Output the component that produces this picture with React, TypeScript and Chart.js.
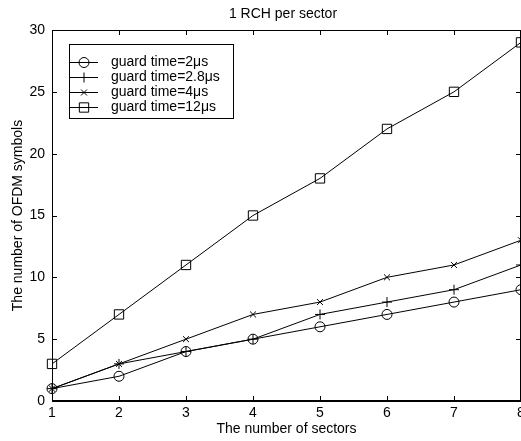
import React, { useEffect, useRef } from 'react';
import { Chart, registerables } from 'chart.js';

Chart.register(...registerables);

const sectors = ['1', '2', '3', '4', '5', '6', '7', '8'];
const guard2 = [1, 2, 4, 5, 6, 7, 8, 9];
const guard28 = [1, 3, 4, 5, 7, 8, 9, 11];
const guard4 = [1, 3, 5, 7, 8, 10, 11, 13];
const guard12 = [3, 7, 11, 15, 18, 22, 25, 29];
const seriesLabels = ['guard time=2μs', 'guard time=2.8μs', 'guard time=4μs', 'guard time=12μs'];
const titleText = '1 RCH per sector';
const xTitle = 'The number of sectors';
const yTitle = 'The number of OFDM symbols';

const FONT = 'Arial, "Liberation Sans", Helvetica, sans-serif';

function drawMarker(ctx: CanvasRenderingContext2D, style: string, x: number, y: number, r: number) {
  ctx.beginPath();
  if (style === 'circle') {
    ctx.arc(x, y, r, 0, Math.PI * 2);
  } else if (style === 'cross') {
    ctx.moveTo(x - r, y); ctx.lineTo(x + r, y);
    ctx.moveTo(x, y - r); ctx.lineTo(x, y + r);
  } else if (style === 'crossRot') {
    const o = r * Math.SQRT1_2;
    ctx.moveTo(x - o, y - o); ctx.lineTo(x + o, y + o);
    ctx.moveTo(x - o, y + o); ctx.lineTo(x + o, y - o);
  } else if (style === 'rect') {
    const s = r * Math.SQRT1_2;
    ctx.rect(x - s, y - s, 2 * s, 2 * s);
  }
  ctx.stroke();
}

const framePlugin = {
  id: 'matlabFrame',
  afterDraw(chart: any) {
    const { ctx, chartArea } = chart;
    const { left, right, top, bottom } = chartArea;
    const xs = chart.scales.x;
    const ys = chart.scales.y;
    ctx.save();
    ctx.strokeStyle = '#000';
    // title
    ctx.fillStyle = '#000';
    ctx.font = `14px ${FONT}`;
    ctx.textAlign = 'center';
    ctx.textBaseline = 'middle';
    ctx.fillText(titleText, 283, 14);
    // frame
    ctx.lineWidth = 1;
    ctx.beginPath();
    ctx.moveTo(left, top + 0.5); ctx.lineTo(right, top + 0.5);
    ctx.moveTo(left + 0.5, top); ctx.lineTo(left + 0.5, bottom);
    ctx.moveTo(right - 0.5, top); ctx.lineTo(right - 0.5, bottom);
    ctx.stroke();
    ctx.lineWidth = 2;
    ctx.beginPath();
    ctx.moveTo(left, bottom); ctx.lineTo(right, bottom);
    ctx.stroke();
    // inward ticks
    const tl = 5;
    ctx.lineWidth = 1;
    ctx.beginPath();
    xs.ticks.forEach((_t: any, i: number) => {
      const px = Math.round(xs.getPixelForTick(i)) + 0.5;
      ctx.moveTo(px, bottom); ctx.lineTo(px, bottom - tl);
      ctx.moveTo(px, top); ctx.lineTo(px, top + tl);
    });
    ys.ticks.forEach((_t: any, i: number) => {
      const py = Math.round(ys.getPixelForTick(i)) + 0.5;
      ctx.moveTo(left, py); ctx.lineTo(left + tl, py);
      ctx.moveTo(right, py); ctx.lineTo(right - tl, py);
    });
    ctx.stroke();

    // legend
    const bx = 69.5, by = 44.5, bw = 164, bh = 74;
    ctx.fillStyle = '#fff';
    ctx.fillRect(bx, by, bw, bh);
    ctx.lineWidth = 1;
    ctx.strokeRect(bx, by, bw, bh);
    ctx.font = `14px ${FONT}`;
    ctx.textBaseline = 'middle';
    ctx.textAlign = 'left';
    ctx.fillStyle = '#000';
    chart.data.datasets.forEach((ds: any, i: number) => {
      const y = 62.5 + i * 15;
      ctx.beginPath();
      ctx.moveTo(70, y); ctx.lineTo(98, y);
      ctx.stroke();
      drawMarker(ctx, ds.pointStyle, 84, y, ds.pointRadius);
      ctx.fillText(ds.label, 111, y);
    });
    ctx.restore();
  },
};

export default function App() {
  const ref = useRef<HTMLCanvasElement | null>(null);

  useEffect(() => {
    if (!ref.current) return;
    const mk = (label: string, data: number[], pointStyle: string, pointRadius: number) => ({
      label,
      data,
      borderColor: '#000',
      borderWidth: 1,
      pointStyle,
      pointRadius,
      pointBorderColor: '#000',
      pointBorderWidth: 1,
      pointBackgroundColor: 'rgba(0,0,0,0)',
      fill: false,
      tension: 0,
      clip: false as any,
    });
    const chart = new Chart(ref.current, {
      type: 'line',
      data: {
        labels: sectors,
        datasets: [
          mk(seriesLabels[0], guard2, 'circle', 5),
          mk(seriesLabels[1], guard28, 'cross', 5),
          mk(seriesLabels[2], guard4, 'crossRot', 4.2),
          mk(seriesLabels[3], guard12, 'rect', 6.6),
        ],
      },
      options: {
        animation: false,
        responsive: true,
        maintainAspectRatio: false,
        events: [],
        layout: { padding: { left: 0, right: 24, top: 30, bottom: 0 } },
        plugins: {
          legend: { display: false },
          tooltip: { enabled: false },
          title: { display: false },
        },
        scales: {
          x: {
            type: 'category',
            offset: false,
            grid: { display: false, drawTicks: false },
            border: { display: false },
            ticks: { color: '#000', font: { family: FONT, size: 14 }, padding: 4, maxRotation: 0, autoSkip: false },
            title: {
              display: true,
              text: xTitle,
              color: '#000',
              font: { family: FONT, size: 14 },
              padding: { top: 0, bottom: 3 },
            },
            afterFit: (s: any) => { s.height = 40; },
          },
          y: {
            type: 'linear',
            min: 0,
            max: 30,
            grid: { display: false, drawTicks: false },
            border: { display: false },
            ticks: { stepSize: 5, color: '#000', font: { family: FONT, size: 14 }, padding: 7 },
            title: {
              display: true,
              text: yTitle,
              color: '#000',
              font: { family: FONT, size: 14 },
              padding: { top: 10, bottom: 0 },
            },
            afterFit: (s: any) => { s.width = 52; },
          },
        },
      },
      plugins: [framePlugin],
    });
    return () => chart.destroy();
  }, []);

  return (
    <div style={{ position: 'fixed', left: 0, top: 0, width: 521, height: 441, overflow: 'hidden', background: '#fff' }}>
      <div style={{ position: 'relative', width: 545, height: 441 }}>
        <canvas ref={ref} />
      </div>
    </div>
  );
}
